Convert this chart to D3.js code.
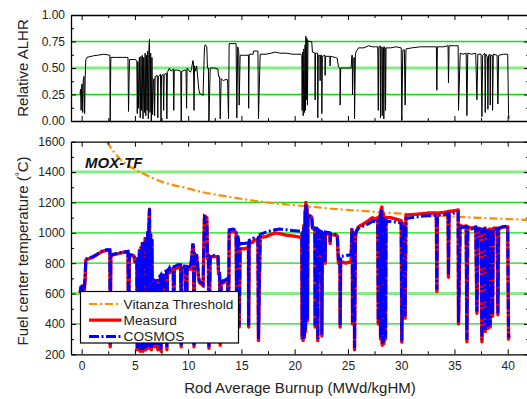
<!DOCTYPE html>
<html>
<head>
<meta charset="utf-8">
<script src="https://cdn.jsdelivr.net/npm/d3@7"></script>
<style>
  body { margin: 0; background: #fff; }
  svg { display: block; font-family: Arial, "Liberation Sans", sans-serif; }
</style>
</head>
<body>
<div id="chart"></div>
<script>
// relative ALHR history, [burnup, value]
const alhr = [
  [-0.15,0.26],[-0.1,0.3],[-0.05,0.1],[0.0,0.33],[0.05,0.35],[0.1,0.08],[0.15,0.38],[0.22,0.42],[0.28,0.07],[0.33,0.4],
  [0.39,0.58],[0.5,0.6],[1.1,0.615],[1.5,0.62],[2.05,0.63],[2.4,0.625],[2.65,0.62],[2.68,0.0],[2.74,0.6],[3.2,0.6],
  [3.8,0.6],[4.35,0.6],[4.40,0.09],[4.49,0.58],[5.0,0.58],[5.18,0.57],
  [5.22,0.07],[5.28,0.56],[5.35,0.12],[5.42,0.6],[5.5,0.03],[5.57,0.61],[5.63,0.1],[5.7,0.62],[5.76,0.02],[5.83,0.6],
  [5.9,0.08],[5.96,0.64],[6.02,0.05],[6.08,0.62],[6.14,0.1],[6.2,0.66],[6.26,0.02],[6.32,0.7],[6.37,0.77],[6.42,0.08],
  [6.48,0.64],[6.54,0.0],[6.6,0.6],[6.66,0.06],
  [6.74,0.38],[6.8,0.4],[6.85,0.05],[6.9,0.42],[7.1,0.43],[7.15,0.03],[7.2,0.42],[7.4,0.44],[7.45,0.0],[7.5,0.43],
  [7.65,0.44],[7.7,0.1],[7.75,0.44],[7.95,0.45],[8.0,0.02],[8.05,0.46],[8.25,0.5],[8.31,0.48],[8.4,0.47],[8.6,0.49],
  [8.65,0.1],[8.7,0.48],[9.0,0.48],[9.3,0.47],[9.35,0.0],[9.4,0.47],[9.72,0.48],[9.8,0.48],[9.85,0.12],[9.9,0.5],
  [10.2,0.46],[10.3,0.48],[10.44,0.57],[10.5,0.55],[10.55,0.1],[10.6,0.52],[10.7,0.47],[10.8,0.52],[11.0,0.3],[11.07,0.26],
  [11.3,0.25],[11.4,0.24],[11.5,0.6],[11.53,0.69],[11.6,0.72],[11.75,0.7],[11.81,0.5],[11.9,0.5],[11.95,0.0],[12.07,0.5],
  [12.5,0.5],[12.8,0.49],[12.85,0.42],[12.95,0.42],[13.01,0.02],[13.1,0.4],[13.3,0.38],[13.47,0.39],[13.7,0.39],[13.79,0.02],
  [13.85,0.73],[14.2,0.73],[14.5,0.73],[14.57,0.03],[14.65,0.7],[14.75,0.65],[14.79,0.15],[14.88,0.62],[15.3,0.62],[15.66,0.62],
  [15.68,0.12],[15.73,0.63],[16.1,0.63],[16.14,0.66],[16.55,0.66],[16.6,0.02],[16.76,0.63],[17.3,0.63],[17.8,0.64],[18.17,0.65],
  [18.6,0.64],[19.2,0.64],[19.8,0.63],[20.6,0.63],
  [20.67,0.62],[20.7,0.1],[20.75,0.65],[20.8,0.05],[20.86,0.68],[20.92,0.08],[20.98,0.72],[21.02,0.1],[21.05,0.8],[21.1,0.2],
  [21.15,0.78],[21.2,0.15],[21.25,0.76],[21.3,0.75],[21.6,0.75],[21.67,0.65],[21.9,0.64],[21.92,0.2],[21.96,0.64],[22.15,0.64],
  [22.17,0.03],[22.22,0.62],[22.37,0.62],[22.39,0.38],[22.42,0.62],[22.53,0.62],[22.55,0.07],[22.6,0.61],[22.84,0.62],[22.86,0.43],
  [22.9,0.61],[23.3,0.61],[23.33,0.52],[23.36,0.61],[23.8,0.6],[24.0,0.59],[24.11,0.51],[24.25,0.5],[24.27,0.15],[24.32,0.5],
  [24.8,0.5],[25.3,0.5],[25.37,0.62],[25.41,0.62],[25.43,0.25],[25.5,0.58],[25.6,0.6],[25.62,0.02],[25.7,0.6],[25.74,0.65],
  [25.99,0.69],[26.5,0.69],[26.93,0.71],[27.3,0.7],[27.56,0.7],[27.6,0.7],[27.8,0.7],[27.85,0.1],[27.9,0.7],
  [28.03,0.71],[28.06,0.03],[28.1,0.7],[28.19,0.68],[28.22,0.05],[28.28,0.7],[28.34,0.69],[28.37,0.02],[28.42,0.7],[28.5,0.68],
  [28.53,0.1],[28.58,0.69],[29.0,0.69],[29.5,0.7],[30.0,0.69],[30.06,0.01],[30.15,0.67],[30.3,0.67],[30.37,0.15],[30.45,0.68],
  [31.0,0.69],[31.8,0.7],[32.5,0.7],[33.3,0.7],[33.35,0.29],[33.4,0.7],[34.0,0.7],[34.4,0.71],[34.44,0.36],[34.5,0.71],
  [35.0,0.71],[35.35,0.71],[35.38,0.1],[35.54,0.64],[35.8,0.63],[36.1,0.64],[36.17,0.05],[36.25,0.64],[36.6,0.63],[37.0,0.64],
  [37.11,0.2],[37.2,0.63],[37.5,0.63],[37.58,0.04],[37.65,0.62],[37.85,0.64],[37.89,0.08],[37.95,0.63],[38.1,0.6],[38.14,0.11],
  [38.2,0.62],[38.33,0.63],[38.36,0.15],[38.4,0.62],[38.55,0.62],[38.58,0.1],[38.65,0.63],[39.0,0.62],[39.08,0.16],[39.15,0.62],
  [39.6,0.63],[40.0,0.63],[40.08,0.07],[40.12,0.02]
];

// measured fuel centre temperature, [burnup, degC]
const measured = [
  [-0.15,600],[-0.05,640],[0.0,610],[0.05,650],[0.1,600],[0.17,640],[0.25,620],[0.33,700],[0.39,821],[0.5,825],
  [1.1,840],[1.5,860],[2.05,880],[2.4,885],[2.65,885],[2.68,250],[2.74,850],[3.2,860],[3.8,870],[4.35,875],
  [4.40,400],[4.49,850],[4.9,850],[5.0,810],[5.18,800],
  [5.22,230],[5.28,830],[5.35,300],[5.42,880],[5.5,220],[5.57,900],[5.63,260],[5.7,930],[5.76,220],[5.83,900],
  [5.9,250],[5.96,960],[6.02,230],[6.08,950],[6.14,280],[6.2,1000],[6.26,240],[6.32,1060],[6.37,1155],[6.42,260],
  [6.48,990],[6.54,230],[6.6,950],[6.66,250],
  [6.74,640],[6.8,660],[6.85,250],[6.9,670],[7.1,680],[7.15,230],[7.2,680],[7.4,700],[7.45,220],[7.5,690],
  [7.65,700],[7.7,280],[7.75,710],[7.95,720],[8.0,230],[8.05,720],[8.25,750],[8.31,740],[8.4,750],[8.6,760],
  [8.65,300],[8.7,760],[9.0,770],[9.3,770],[9.35,250],[9.4,770],[9.72,770],[9.85,300],[9.9,780],[10.2,760],
  [10.3,800],[10.44,920],[10.5,900],[10.55,250],[10.6,860],[10.7,800],[10.8,850],[11.0,690],[11.07,670],[11.3,660],
  [11.4,650],[11.5,1000],[11.53,1100],[11.6,1110],[11.75,1100],[11.81,830],[11.9,830],[11.95,240],[12.07,840],[12.5,845],
  [12.8,840],[12.85,730],[12.95,720],[13.01,260],[13.1,680],[13.3,670],[13.47,680],[13.7,690],[13.79,360],[13.85,1000],
  [14.2,1010],[14.5,1005],[14.57,360],[14.65,960],[14.75,900],[14.79,380],[14.88,895],[15.3,895],[15.66,905],[15.68,380],
  [15.73,930],[16.1,940],[16.14,950],[16.55,955],[16.6,290],[16.76,970],[17.3,975],[17.8,990],[18.17,1000],[18.6,995],
  [19.2,985],[19.8,980],[20.6,970],
  [20.67,980],[20.7,300],[20.75,1000],[20.8,290],[20.86,1050],[20.92,310],[20.98,1150],[21.02,350],[21.05,1200],[21.1,500],
  [21.15,1180],[21.2,420],[21.25,1120],[21.3,1110],[21.6,1105],[21.67,1030],[21.9,1020],[21.92,380],[21.96,1020],[22.15,1015],
  [22.17,290],[22.22,1000],[22.37,990],[22.39,700],[22.42,1000],[22.53,990],[22.55,320],[22.6,995],[22.84,1000],[22.86,800],
  [22.9,995],[23.3,990],[23.33,930],[23.36,990],[23.8,985],[24.0,980],[24.11,800],[24.25,810],[24.27,380],[24.32,810],
  [24.8,800],[25.3,810],[25.37,1020],[25.41,1000],[25.43,400],[25.5,900],[25.6,930],[25.62,230],[25.7,940],[25.74,1000],
  [25.99,1040],[26.5,1060],[26.93,1080],[27.3,1100],[27.56,1090],[27.6,1090],[27.8,1100],[27.85,400],[27.9,1100],
  [28.03,1120],[28.06,300],[28.1,1150],[28.19,1170],[28.22,260],[28.28,1130],[28.34,1120],[28.37,270],[28.42,1100],[28.5,1100],
  [28.53,300],[28.58,1100],[29.0,1100],[29.5,1090],[30.0,1080],[30.06,280],[30.15,1060],[30.3,1060],[30.37,437],[30.45,1117],
  [31.0,1120],[31.8,1125],[32.5,1130],[33.3,1130],[33.35,613],[33.4,1130],[34.0,1135],[34.4,1140],[34.44,707],[34.5,1140],
  [35.0,1145],[35.35,1150],[35.38,400],[35.54,1050],[35.8,1040],[36.1,1045],[36.17,283],[36.25,1040],[36.6,1030],[37.0,1040],
  [37.11,470],[37.2,1030],[37.5,1025],[37.58,283],[37.65,1020],[37.85,1030],[37.89,350],[37.95,1020],[38.1,1000],[38.14,370],
  [38.2,1020],[38.33,1025],[38.36,380],[38.4,1020],[38.55,1020],[38.58,450],[38.65,1030],[39.0,1030],[39.08,460],[39.15,1030],
  [39.6,1040],[40.0,1040],[40.08,300],[40.12,320]
];

// COSMOS prediction, [burnup, degC]
const cosmos = [
  [-0.15,610],[-0.05,650],[0.0,620],[0.05,660],[0.1,610],[0.17,650],[0.25,630],[0.33,720],[0.39,825],[0.5,830],
  [1.1,845],[1.5,860],[2.05,885],[2.4,888],[2.65,888],[2.68,260],[2.74,855],[3.2,862],[3.8,872],[4.35,878],
  [4.40,410],[4.49,855],[4.9,855],[5.0,815],[5.18,805],
  [5.22,240],[5.28,840],[5.35,290],[5.42,890],[5.5,230],[5.57,910],[5.63,250],[5.7,940],[5.76,230],[5.83,910],
  [5.9,240],[5.96,970],[6.02,240],[6.08,960],[6.14,270],[6.2,1010],[6.26,250],[6.32,1070],[6.37,1160],[6.42,270],
  [6.48,1000],[6.54,240],[6.6,960],[6.66,260],
  [6.74,650],[6.8,670],[6.85,260],[6.9,690],[7.1,700],[7.15,240],[7.2,700],[7.4,720],[7.45,230],[7.5,710],
  [7.65,730],[7.7,290],[7.75,740],[7.95,750],[8.0,240],[8.05,745],[8.25,770],[8.31,760],[8.4,770],[8.6,775],
  [8.65,310],[8.7,775],[9.0,790],[9.3,790],[9.35,260],[9.4,785],[9.72,780],[9.85,310],[9.9,790],[10.2,770],
  [10.3,820],[10.44,930],[10.5,910],[10.55,260],[10.6,870],[10.7,820],[10.8,860],[11.0,700],[11.07,680],[11.3,670],
  [11.4,660],[11.5,1010],[11.53,1105],[11.6,1100],[11.75,1090],[11.81,850],[11.9,850],[11.95,250],[12.07,855],[12.5,850],
  [12.8,845],[12.85,740],[12.95,735],[13.01,270],[13.1,690],[13.3,680],[13.47,690],[13.7,700],[13.79,370],[13.85,1020],
  [14.2,1025],[14.5,1015],[14.57,370],[14.65,990],[14.75,940],[14.79,390],[14.88,930],[15.3,930],[15.66,935],[15.68,390],
  [15.73,950],[16.1,960],[16.14,965],[16.55,970],[16.6,300],[16.76,990],[17.3,1005],[17.8,1015],[18.17,1020],[18.6,1025],
  [19.2,1020],[19.8,1015],[20.6,1010],
  [20.67,990],[20.7,310],[20.75,1010],[20.8,300],[20.86,1040],[20.92,320],[20.98,1140],[21.02,360],[21.05,1185],[21.1,520],
  [21.15,1170],[21.2,430],[21.25,1110],[21.3,1115],[21.6,1110],[21.67,1035],[21.9,1030],[21.92,390],[21.96,1030],[22.15,1025],
  [22.17,300],[22.22,1015],[22.37,1000],[22.39,720],[22.42,1010],[22.53,1005],[22.55,330],[22.6,1005],[22.84,1010],[22.86,810],
  [22.9,1005],[23.3,1000],[23.33,940],[23.36,995],[23.8,990],[24.0,985],[24.11,820],[24.25,840],[24.27,390],[24.32,845],
  [24.8,850],[25.3,855],[25.37,1030],[25.41,1010],[25.43,410],[25.5,910],[25.6,940],[25.62,240],[25.7,950],[25.74,1005],
  [25.99,1030],[26.5,1045],[26.93,1060],[27.3,1075],[27.56,1075],[27.6,1070],[27.8,1080],[27.85,410],[27.9,1085],
  [28.03,1100],[28.06,310],[28.1,1130],[28.19,1150],[28.22,270],[28.28,1110],[28.34,1100],[28.37,280],[28.42,1085],[28.5,1080],
  [28.53,310],[28.58,1075],[29.0,1075],[29.5,1070],[30.0,1065],[30.06,290],[30.15,1050],[30.3,1050],[30.37,450],[30.45,1095],
  [31.0,1100],[31.8,1108],[32.5,1112],[33.3,1115],[33.35,625],[33.4,1115],[34.0,1120],[34.4,1125],[34.44,720],[34.5,1125],
  [35.0,1130],[35.35,1135],[35.38,410],[35.54,1040],[35.8,1035],[36.1,1040],[36.17,295],[36.25,1035],[36.6,1025],[37.0,1035],
  [37.11,480],[37.2,1025],[37.5,1020],[37.58,295],[37.65,1015],[37.85,1025],[37.89,360],[37.95,1015],[38.1,995],[38.14,380],
  [38.2,1015],[38.33,1020],[38.36,390],[38.4,1015],[38.55,1015],[38.58,460],[38.65,1025],[39.0,1025],[39.08,470],[39.15,1030],
  [39.6,1040],[40.0,1045],[40.08,310],[40.12,330]
];

// Vitanza threshold curve
const vitanzaBurnup = [2.35, 3.0, 3.5, 4.2, 5.2, 6.2, 7.4, 8.5, 9.8, 11.2, 12.8, 14.6, 16.6, 18.8, 21.2, 23.8, 26.6, 29.6, 32.8, 36.2, 39.6, 42.2];
const vitanzaTemp  = [1600, 1535, 1495, 1452, 1410, 1376, 1340, 1316, 1295, 1270, 1249, 1228, 1207, 1190, 1174, 1157, 1143, 1128, 1115, 1102, 1092, 1084];

const xMajor = [0, 5, 10, 15, 20, 25, 30, 35, 40];
const xMinor = [2.5, 7.5, 12.5, 17.5, 22.5, 27.5, 32.5, 37.5];
const alhrMajor = [0, 0.25, 0.5, 0.75, 1];
const alhrMinor = [0.125, 0.375, 0.625, 0.875];
const tempMajor = [200, 400, 600, 800, 1000, 1200, 1400, 1600];
const tempMinor = [300, 500, 700, 900, 1100, 1300, 1500];

const legendItems = ['Vitanza Threshold', 'Measurd', 'COSMOS'];

const width = 527;
const height = 399;
const left = 71;
const right = 529;
const font = 'Arial, "Liberation Sans", sans-serif';

const x = d3.scaleLinear().domain([-1, 42]).range([left, right]);
const yTop = d3.scaleLinear().domain([0, 1]).range([121, 15]);
const yBot = d3.scaleLinear().domain([200, 1600]).range([354.3, 141.7]);

const svg = d3.select('#chart').append('svg')
  .attr('width', width)
  .attr('height', height);

const defs = svg.append('defs');
defs.append('clipPath').attr('id', 'clipTop').append('rect')
  .attr('x', left).attr('y', yTop.range()[1])
  .attr('width', right - left).attr('height', yTop.range()[0] - yTop.range()[1]);
defs.append('clipPath').attr('id', 'clipBot').append('rect')
  .attr('x', left).attr('y', yBot.range()[1])
  .attr('width', right - left).attr('height', yBot.range()[0] - yBot.range()[1]);

// green grid lines, the middle ones lighter and wider
const grid = function(y, values, wide) {
  svg.append('g')
    .selectAll('line')
    .data(values)
    .join('line')
    .attr('x1', left)
    .attr('x2', right)
    .attr('y1', d => y(d))
    .attr('y2', d => y(d))
    .attr('stroke', d => wide.includes(d) ? '#84ec84' : '#12dc12')
    .attr('stroke-width', d => wide.includes(d) ? 3 : 1.3);
};
grid(yTop, [0.25, 0.5, 0.75], [0.5]);
grid(yBot, [400, 600, 800, 1000, 1200, 1400], [600, 1400]);

// top panel: ALHR
svg.append('path')
  .datum(alhr)
  .attr('clip-path', 'url(#clipTop)')
  .attr('fill', 'none')
  .attr('stroke', '#000')
  .attr('stroke-width', 1)
  .attr('d', d3.line().x(d => x(d[0])).y(d => yTop(d[1])));

// bottom panel: temperatures
const tLine = d3.line().x(d => x(d[0])).y(d => yBot(d[1]));
const bot = svg.append('g').attr('clip-path', 'url(#clipBot)');

bot.append('path')
  .datum(d3.zip(vitanzaBurnup, vitanzaTemp))
  .attr('fill', 'none')
  .attr('stroke', '#ff8a00')
  .attr('stroke-width', 2.2)
  .attr('stroke-dasharray', '8,3,2,3')
  .attr('d', d3.line().curve(d3.curveMonotoneX).x(d => x(d[0])).y(d => yBot(d[1])));

bot.append('path')
  .datum(measured)
  .attr('fill', 'none')
  .attr('stroke', '#ff0000')
  .attr('stroke-width', 3.4)
  .attr('stroke-linejoin', 'round')
  .attr('d', tLine);

bot.append('path')
  .datum(cosmos)
  .attr('fill', 'none')
  .attr('stroke', '#0000ff')
  .attr('stroke-width', 3)
  .attr('stroke-dasharray', '10,2.5,2,2.5')
  .attr('d', tLine);

// frame, ticks and labels for one panel
const axes = function(y, major, minor, fmt, xLabels) {
  const [yb, yt] = y.range();
  const style = g => g.attr('font-family', font).attr('font-size', 12).attr('color', '#000');
  const plain = g => g.select('.domain').remove();

  svg.append('g').attr('transform', `translate(${left},0)`)
    .call(d3.axisLeft(y).tickValues(major).tickSize(-5).tickSizeOuter(0).tickPadding(6).tickFormat(fmt))
    .call(style);
  svg.append('g').attr('transform', `translate(${left},0)`)
    .call(d3.axisLeft(y).tickValues(minor).tickSize(-3).tickFormat('')).call(plain);
  svg.append('g').attr('transform', `translate(${right},0)`)
    .call(d3.axisRight(y).tickValues(major).tickSize(-5).tickSizeOuter(0).tickFormat(''));
  svg.append('g').attr('transform', `translate(${right},0)`)
    .call(d3.axisRight(y).tickValues(minor).tickSize(-3).tickFormat('')).call(plain);

  svg.append('g').attr('transform', `translate(0,${yt})`)
    .call(d3.axisTop(x).tickValues(xMajor).tickSize(-5).tickSizeOuter(0).tickFormat(''));
  svg.append('g').attr('transform', `translate(0,${yt})`)
    .call(d3.axisTop(x).tickValues(xMinor).tickSize(-3).tickFormat('')).call(plain);
  svg.append('g').attr('transform', `translate(0,${yb})`)
    .call(d3.axisBottom(x).tickValues(xMajor).tickSize(-5).tickSizeOuter(0).tickPadding(7.5)
      .tickFormat(xLabels ? d3.format('d') : ''))
    .call(style);
  svg.append('g').attr('transform', `translate(0,${yb})`)
    .call(d3.axisBottom(x).tickValues(xMinor).tickSize(-3).tickFormat('')).call(plain);
};
axes(yTop, alhrMajor, alhrMinor, d3.format('.2f'), false);
axes(yBot, tempMajor, tempMinor, d3.format('d'), true);
svg.selectAll('.domain').attr('stroke-width', 1.3);
svg.selectAll('.tick text').attr('fill', '#222');

// axis titles
svg.append('text')
  .attr('transform', 'translate(28,68) rotate(-90)')
  .attr('text-anchor', 'middle')
  .attr('font-family', font)
  .attr('font-size', 15)
  .attr('fill', '#222')
  .text('Relative ALHR');

const yTitle = svg.append('text')
  .attr('transform', 'translate(28,251) rotate(-90)')
  .attr('text-anchor', 'middle')
  .attr('font-family', font)
  .attr('font-size', 15)
  .attr('fill', '#222');
yTitle.append('tspan').text('Fuel center temperature (');
yTitle.append('tspan').attr('font-size', 10).attr('dy', -5).text('°');
yTitle.append('tspan').attr('dy', 5).text('C)');

svg.append('text')
  .attr('x', 300)
  .attr('y', 393)
  .attr('text-anchor', 'middle')
  .attr('font-family', font)
  .attr('font-size', 15)
  .attr('fill', '#222')
  .text('Rod Average Burnup (MWd/kgHM)');

svg.append('text')
  .attr('x', 85)
  .attr('y', 168)
  .attr('font-family', font)
  .attr('font-size', 15)
  .attr('font-weight', 'bold')
  .attr('font-style', 'italic')
  .attr('fill', '#111')
  .text('MOX-TF');

// legend
const legend = svg.append('g').attr('transform', 'translate(80.5,291.5)');
legend.append('rect')
  .attr('width', 158)
  .attr('height', 51.5)
  .attr('fill', '#fff')
  .attr('stroke', '#000')
  .attr('stroke-width', 1.2);
const lstyle = [
  { color: '#ff8a00', dash: '8,3,2,3', w: 2.2 },
  { color: '#ff0000', dash: null, w: 3.2 },
  { color: '#0000ff', dash: '10,2.5,2,2.5', w: 3 }
];
const rows = legend.selectAll('g.row')
  .data(legendItems)
  .join('g')
  .attr('class', 'row')
  .attr('transform', (d, i) => `translate(0,${12.5 + i * 16.2})`);
rows.append('line')
  .attr('x1', 8.5).attr('x2', 41)
  .attr('stroke', (d, i) => lstyle[i].color)
  .attr('stroke-width', (d, i) => lstyle[i].w)
  .attr('stroke-dasharray', (d, i) => lstyle[i].dash);
rows.append('text')
  .attr('x', 43)
  .attr('y', 4.8)
  .attr('font-family', font)
  .attr('font-size', 13.7)
  .attr('fill', '#222')
  .text(d => d);
</script>
</body>
</html>
